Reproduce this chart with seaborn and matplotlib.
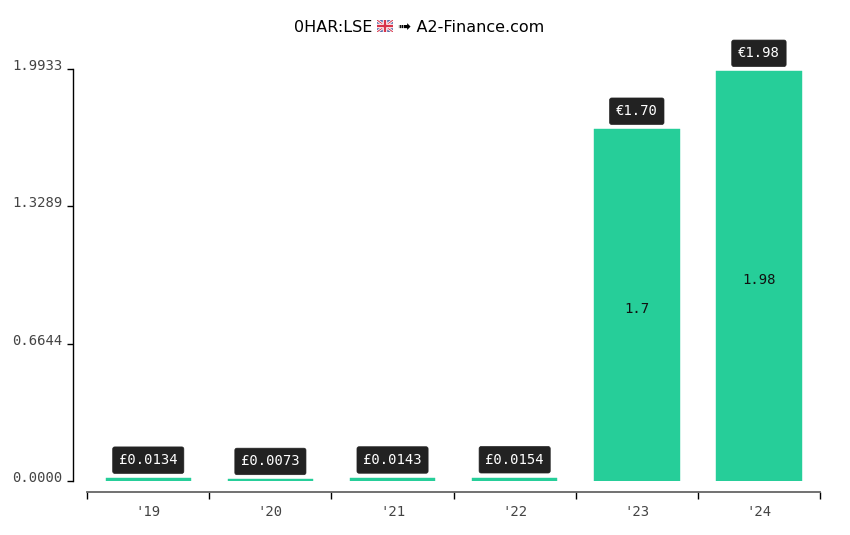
import matplotlib
matplotlib.use('Agg')
import matplotlib.pyplot as plt
from matplotlib.transforms import ScaledTranslation
import pandas as pd
import seaborn as sns

years = ["'19", "'20", "'21", "'22", "'23", "'24"]
values = [0.0134, 0.0073, 0.0143, 0.0154, 1.70, 1.98]
top_labels = ['£0.0134', '£0.0073', '£0.0143', '£0.0154', '€1.70', '€1.98']
inner_labels = ['', '', '', '', '1.7', '1.98']
y_ticks = [0.0, 0.6644, 1.3289, 1.9933]
y_tick_labels = ['0.0000', '0.6644', '1.3289', '1.9933']

sns.set_style('white')
plt.rcParams['font.family'] = 'DejaVu Sans Mono'

W, H = 850, 535
fig = plt.figure(figsize=(W / 100, H / 100), dpi=100)
ax = fig.add_axes([87.2 / W, 1 - 481 / H, (820 - 87.2) / W, (481 - 68.6) / H])

df = pd.DataFrame({'year': years, 'value': values})
sns.barplot(data=df, x='year', y='value', color='#26CE99', saturation=1, width=0.7,
            edgecolor='#26CE99', linewidth=0.3, ax=ax)

ax.set_xlim(-0.5, 5.5)
ax.set_ylim(0, y_ticks[-1])
ax.set_xlabel('')
ax.set_ylabel('')

# labels sit on the bar centres, the ticks on the edges between the bars
ax.set_xticks(range(len(years)))
ax.set_xticklabels(years)
ax.set_xticks([i - 0.5 for i in range(len(years) + 1)], minor=True)
ax.tick_params(axis='x', which='major', length=0, pad=9, labelsize=10, labelcolor='#444444')
ax.tick_params(axis='x', which='minor', length=5, width=1, color='black', bottom=True)
ax.set_yticks(y_ticks)
ax.set_yticklabels(y_tick_labels)
ax.tick_params(axis='y', length=4, width=1, color='black', left=True, pad=3.5, labelsize=10, labelcolor='#444444')

sns.despine(ax=ax, offset={'left': 10.1, 'bottom': 8})
ax.spines['left'].set_color('black')
ax.spines['left'].set_linewidth(1)
ax.spines['bottom'].set_color('#666666')
ax.spines['bottom'].set_linewidth(1.3)

# y labels sit a little above their ticks (despine resets ticks, so do this after it)
shift_up = ScaledTranslation(0, 3 / 72, fig.dpi_scale_trans)
for tick in ax.yaxis.get_major_ticks():
    tick.label1.set_transform(tick.label1.get_transform() + shift_up)

for i, v in enumerate(values):
    ax.annotate(top_labels[i], (i, v), xytext=(0, 13), textcoords='offset points',
                ha='center', va='center', color='white', fontsize=10,
                bbox=dict(boxstyle='round,pad=0.45,rounding_size=0.15', fc='#222222', ec='#222222', lw=0.5))
    if inner_labels[i]:
        ax.annotate(inner_labels[i], (i, v / 2), xytext=(0, -3), textcoords='offset points',
                    ha='center', va='center', color='#111111', fontsize=10)

# title, split in two so the flag fits between the parts
fig.text(372 / W, 1 - 27 / H, '0HAR:LSE', ha='right', va='center', fontsize=11.5,
         family='DejaVu Sans', color='black')
fig.text(398 / W, 1 - 27 / H, '➟ A2-Finance.com', ha='left', va='center', fontsize=11.5,
         family='DejaVu Sans', color='black')

# no emoji font here, so the union flag is drawn by hand
flag = fig.add_axes([377 / W, 1 - 32 / H, 16 / W, 12 / H])
flag.set_xlim(0, 1)
flag.set_ylim(0, 1)
flag.axis('off')
flag.add_patch(plt.Rectangle((0, 0), 1, 1, color='#5A6AA8', lw=0))
flag.plot([0, 1], [0, 1], color='white', lw=2)
flag.plot([0, 1], [1, 0], color='white', lw=2)
flag.plot([0, 1], [0, 1], color='#D8344A', lw=0.7)
flag.plot([0, 1], [1, 0], color='#D8344A', lw=0.7)
flag.plot([0.5, 0.5], [0, 1], color='white', lw=3.2)
flag.plot([0, 1], [0.5, 0.5], color='white', lw=3.2)
flag.plot([0.5, 0.5], [0, 1], color='#D8344A', lw=1.7)
flag.plot([0, 1], [0.5, 0.5], color='#D8344A', lw=1.7)

fig.savefig('out.png', dpi=100, facecolor='white')
